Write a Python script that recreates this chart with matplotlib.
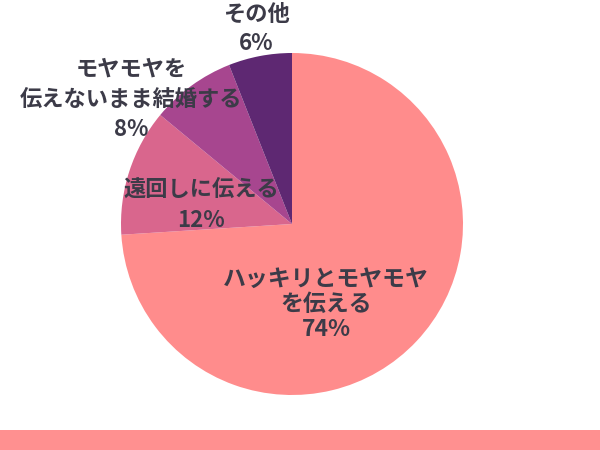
import matplotlib
matplotlib.use("Agg")
import matplotlib.pyplot as plt
from matplotlib.patches import Rectangle

plt.rcParams['font.family'] = ['Noto Sans CJK JP', 'DejaVu Sans']

# data
labels = ["ハッキリとモヤモヤ\nを伝える", "遠回しに伝える", "モヤモヤを\n伝えないまま結婚する", "その他"]
values = [74, 12, 8, 6]
colors = ["#FF8C8C", "#D9668D", "#A7468F", "#5E2872"]

# label placement in pie units (radius = 1)
label_pos = [(0.20, -0.47), (-0.53, 0.11), (-0.94, 0.73), (-0.21, 1.14)]
label_spacing = [1.1, 1.45, 1.38, 1.36]
label_size = [16.5, 16, 16, 16]

R_PX = 171
CX, CY = 292, 224
W, H = 600, 450


def plot_pie():
    fig = plt.figure(figsize=(6, 4.5), dpi=100)
    ax = fig.add_axes([0, 0, 1, 1])
    ax.pie(values, colors=colors, startangle=90, counterclock=False,
           radius=1, wedgeprops={"linewidth": 0})
    ax.set_xlim(-CX / R_PX, (W - CX) / R_PX)
    ax.set_ylim((CY - H) / R_PX, CY / R_PX)
    ax.set_aspect("equal")
    ax.axis("off")

    for lab, val, (x, y), ls, fs in zip(labels, values, label_pos, label_spacing, label_size):
        ax.text(x, y, f"{lab}\n{val}%", ha="center", va="center",
                fontsize=fs, fontweight="bold", color="#3c3b48",
                linespacing=ls, multialignment="center")

    # bottom band
    fig.patches.append(Rectangle((0, 0), 1, 20 / H, transform=fig.transFigure,
                                 facecolor="#FF9090", edgecolor="none"))
    fig.savefig("out.png", dpi=100)


if __name__ == "__main__":
    plot_pie()
